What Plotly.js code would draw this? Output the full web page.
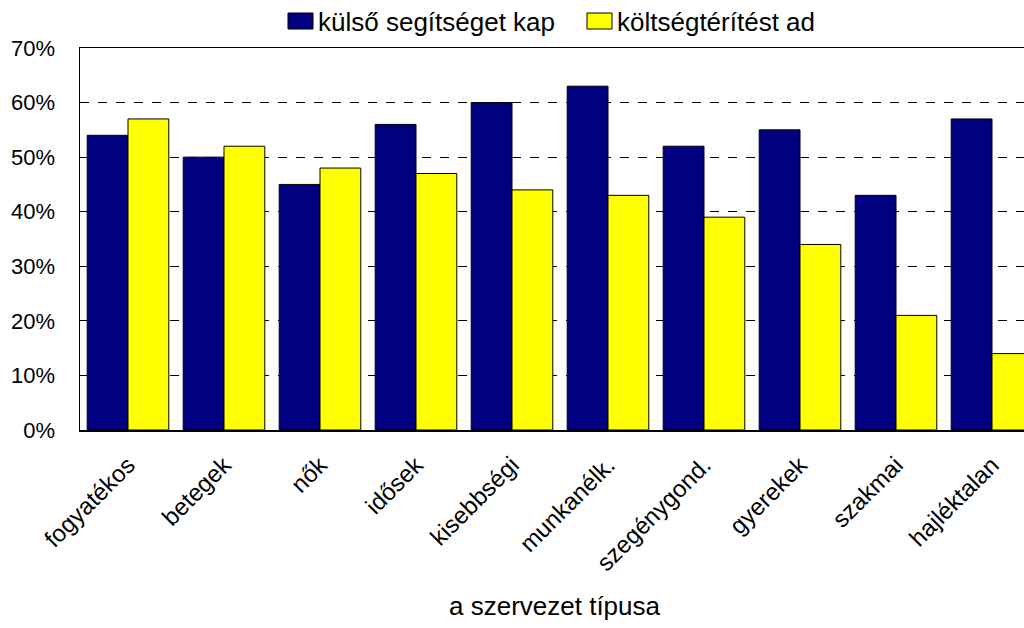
<!DOCTYPE html>
<html>
<head>
<meta charset="utf-8">
<script src="https://cdn.plot.ly/plotly-3.0.1.min.js"></script>
<style>
  html, body { margin: 0; padding: 0; overflow: hidden; background: #fff; }
  #chart { width: 1045px; height: 628px; }
</style>
</head>
<body>
<div id="chart"></div>
<script>
var tipusok = ["fogyatékos", "betegek", "nők", "idősek", "kisebbségi",
  "munkanélk.", "szegénygond.", "gyerekek", "szakmai", "hajléktalan"];
var kulsoSegitseg = [0.54, 0.50, 0.45, 0.56, 0.60, 0.63, 0.52, 0.55, 0.43, 0.57];
var koltsegterites = [0.57, 0.52, 0.48, 0.47, 0.44, 0.43, 0.39, 0.34, 0.21, 0.14];
var yTicks = [0, 0.1, 0.2, 0.3, 0.4, 0.5, 0.6, 0.7];
var yTickText = ["0%", "10%", "20%", "30%", "40%", "50%", "60%", "70%"];
var seriesNames = ["külső segítséget kap", "költségtérítést ad"];
var seriesColors = ["#000080", "#ffff00"];

var font = "Liberation Sans, Arial, sans-serif";

// plot area in pixels: x 80..1040, y 48..430
function px(x) { return (x - 80) / 960; }
function py(y) { return (430 - y) / 382; }

var trace1 = {
  x: tipusok,
  y: kulsoSegitseg,
  name: seriesNames[0],
  type: "bar",
  marker: { color: seriesColors[0], line: { color: "#000000", width: 1 } }
};
var trace2 = {
  x: tipusok,
  y: koltsegterites,
  name: seriesNames[1],
  type: "bar",
  marker: { color: seriesColors[1], line: { color: "#000000", width: 1 } }
};

// hand-made legend (Excel style: wide swatch right next to text)
var legendBoxes = [[288, 313], [587, 612]];
var legendShapes = legendBoxes.map(function (b, i) {
  return {
    type: "rect", xref: "paper", yref: "paper",
    x0: px(b[0]), x1: px(b[1]), y0: py(29), y1: py(13),
    fillcolor: seriesColors[i], line: { color: "#000", width: 1 }
  };
});
var legendText = legendBoxes.map(function (b, i) {
  return {
    text: seriesNames[i], xref: "paper", yref: "paper",
    x: px(b[1] + 3), y: py(22), xanchor: "left", yanchor: "middle",
    showarrow: false, font: { family: font, size: 26 }
  };
});

var layout = {
  width: 1045,
  height: 628,
  margin: { l: 80, r: 5, t: 48, b: 198 },
  font: { family: font, size: 22, color: "#000" },
  barmode: "group",
  bargap: 0.15,
  bargroupgap: 0,
  showlegend: false,
  xaxis: {
    tickangle: -45,
    showline: true, linecolor: "#000", linewidth: 1.5,
    mirror: true,
    ticks: "",
    ticklabelstandoff: 10,
    tickfont: { family: font, size: 24 },
    automargin: false
  },
  yaxis: {
    range: [0, 0.7],
    tickvals: yTicks,
    ticktext: yTickText,
    showline: true, linecolor: "#000", linewidth: 1.5,
    showgrid: true, gridcolor: "#000", griddash: "dash", gridwidth: 1,
    zeroline: false,
    ticks: "",
    ticklabelstandoff: 19,
    tickfont: { family: font, size: 22 },
    automargin: false
  },
  shapes: legendShapes,
  annotations: legendText.concat([{
    text: "a szervezet típusa",
    xref: "paper", yref: "paper",
    x: px(555), y: py(606),
    xanchor: "center", yanchor: "middle",
    showarrow: false,
    font: { family: font, size: 26 }
  }]),
  plot_bgcolor: "#fff",
  paper_bgcolor: "#fff"
};

Plotly.newPlot("chart", [trace1, trace2], layout, { displayModeBar: false, staticPlot: true });
</script>
</body>
</html>
